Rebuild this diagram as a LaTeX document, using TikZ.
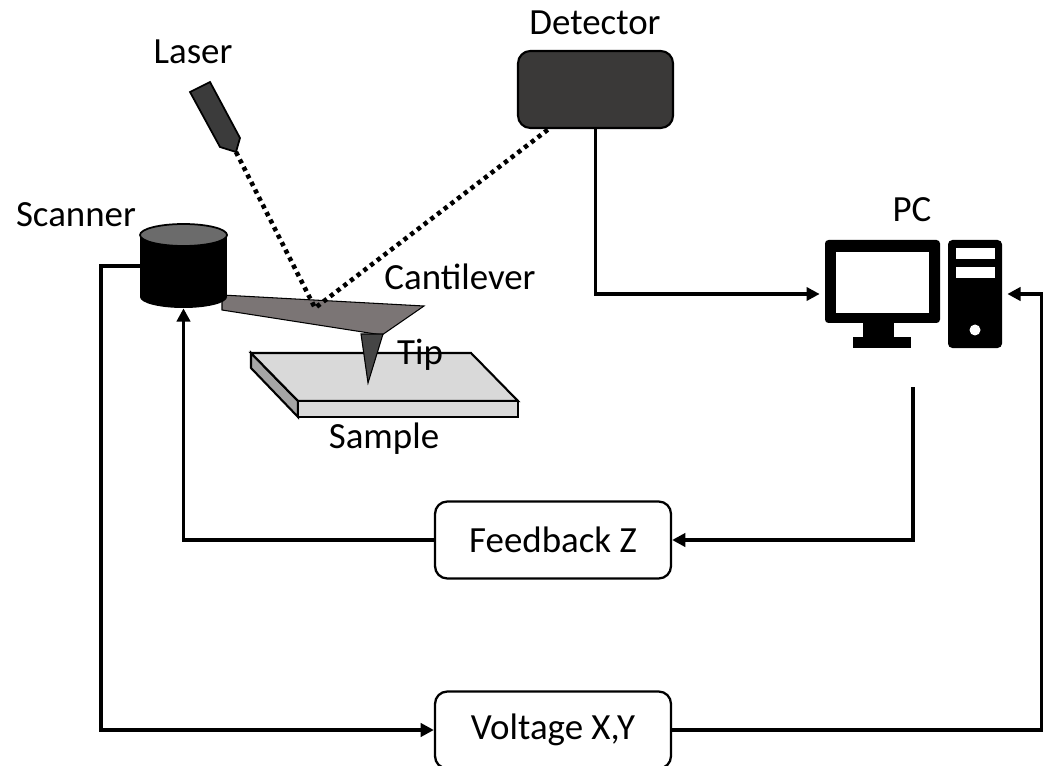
\documentclass[tikz,border=0pt]{standalone}
\usepackage{fontspec}
\setmainfont{Carlito}
\usetikzlibrary{arrows.meta}
\definecolor{lasergray}{HTML}{3B3B3B}
\definecolor{detgray}{HTML}{3A3938}
\definecolor{scantop}{HTML}{6B6B6B}
\definecolor{cantgray}{HTML}{7B7575}
\definecolor{tipgray}{HTML}{454545}
\definecolor{sampletop}{HTML}{D9D9D9}
\definecolor{sampleside}{HTML}{A5A5A5}
\begin{document}
\begin{tikzpicture}[x=0.02cm,y=-0.02cm,
  lbl/.style={font=\fontsize{21}{25}\selectfont,anchor=base},
  wire/.style={line width=2.1pt},
  arr/.style={-{Triangle[length=7.5pt,width=7.5pt]}},
  ctrlbox/.style={draw,line width=1.3pt,rounded corners=7pt,fill=white,
    minimum width=4.72cm,minimum height=1.54cm,font=\fontsize{21}{25}\selectfont},
  beam/.style={line width=2.6pt,dash pattern=on 2.4pt off 2.4pt}]
\path[use as bounding box,clip] (0,0) rectangle (1043,766);

% sample slab
\draw[line width=1.2pt,fill=sampleside] (251,353) -- (298,401) -- (298,417) -- (251,368) -- cycle;
\draw[line width=1.2pt,fill=sampletop] (251,353) -- (471,353) -- (518,401) -- (298,401) -- cycle;
\draw[line width=1.2pt,fill=sampletop] (298,401) rectangle (518,417);

% cantilever and tip
\draw[line width=0.6pt,fill=cantgray] (222,295) -- (424,306) -- (382,335) -- (222,310) -- cycle;
\draw[line width=0.6pt,fill=tipgray] (361,334) -- (383,334) -- (368,383) -- cycle;

% scanner
\node[inner sep=0,minimum width=1.74cm,minimum height=1.68cm] (scanner) at (183.5,266) {};
\fill (183.5,297) ellipse[x radius=43.5,y radius=11];
\fill (140,235) rectangle (227,297);
\draw[line width=1pt,fill=scantop] (183.5,235) ellipse[x radius=43.5,y radius=11];

% laser
\draw[line width=1pt,fill=lasergray] (190,92) -- (210,82) -- (240,138) -- (236,152) -- (220,147) -- cycle;
\coordinate (lasertip) at (236,152);
\coordinate (spot) at (315,308);

% detector
\node[draw,line width=1.2pt,fill=detgray,rounded corners=7pt,
  minimum width=3.1cm,minimum height=1.54cm] (det) at (595.5,89.5) {};
\coordinate (detin) at (550,128);

\draw[beam] (lasertip) -- (spot) -- (detin);

% PC
\node[inner sep=0,minimum width=3.54cm,minimum height=2.16cm] (pc) at (913.5,294) {};
\fill[rounded corners=2pt] (825,240) rectangle (940,323);
\fill[white] (836,252) rectangle (929,313);
\fill (863,322) rectangle (894,338);
\fill (853,337) rectangle (911,348);
\fill[rounded corners=2.5pt] (948,240) rectangle (1002,348);
\fill[white] (956,248) rectangle (995,259);
\fill[white] (956,267) rectangle (995,278);
\fill[white] (975,330) circle (5.5);
\coordinate (pcout) at (913,387);

% control boxes
\node[ctrlbox] (fb) at (553,540) {Feedback Z};
\node[ctrlbox] (volt) at (553,730) {Voltage X,Y};

% signal lines
\draw[wire,arr,shorten >=0.1cm] (det.south) |- (pc.west);
\draw[wire,arr] (pcout) |- (fb.east);
\draw[wire,arr] (fb.west) -| (scanner.south);
\draw[wire,arr] (scanner.west) -- ++(-39,0) |- (volt.west);
\draw[wire,arr,shorten >=0.1cm] (volt.east) -- ++(370,0) |- (pc.east);

% labels
\node[lbl] (laserlbl) at (193,64) {Laser};
\node[lbl] (detlbl) at (595,35) {Detector};
\node[lbl] (scanlbl) at (76,227) {Scanner};
\node[lbl] (pclbl) at (912,222) {PC};
\node[lbl] (cantlbl) at (460,290) {Cantilever};
\node[lbl] (tiplbl) at (420,364) {Tip};
\node[lbl] (samplbl) at (384,448) {Sample};
\end{tikzpicture}
\end{document}
